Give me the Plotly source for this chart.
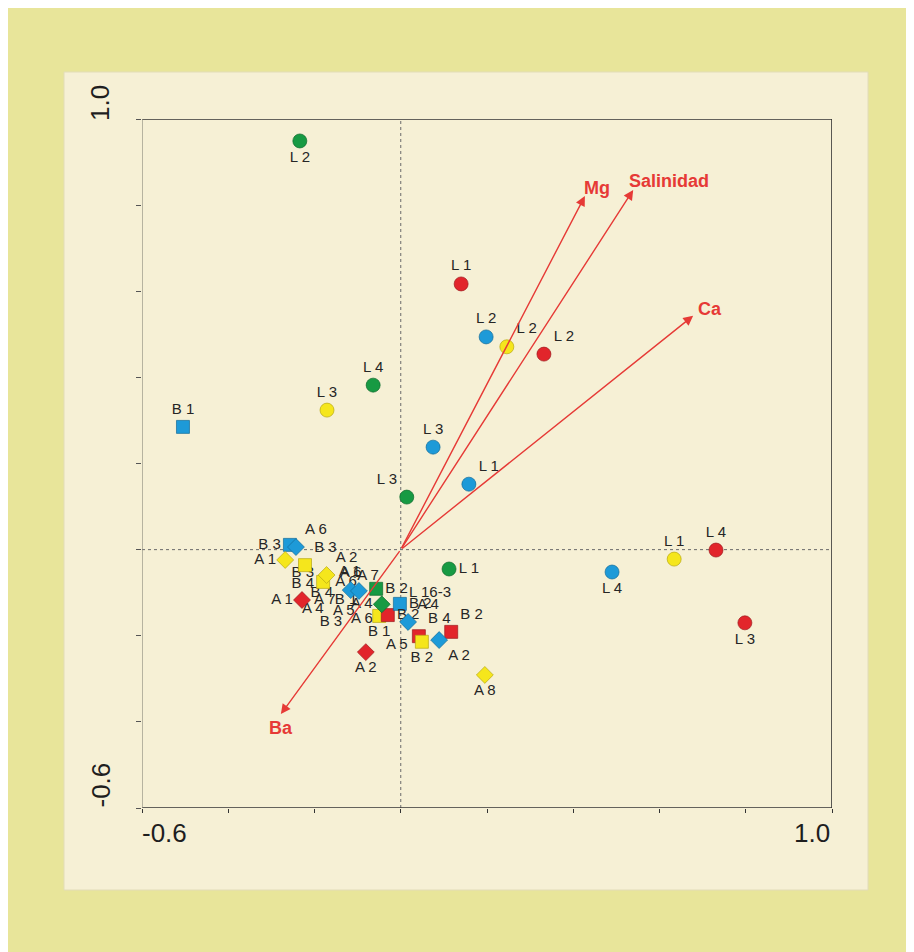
import plotly.graph_objects as go

# ---------------- data ----------------
COLORS = {"green": "#179a43", "blue": "#1d9ad8", "yellow": "#f5e61c", "red": "#e2252b"}
OUTLINE = {"green": "#0e6a2c", "blue": "#146c98", "yellow": "#b8a812", "red": "#9c1a1e"}

# circles (L sites)
circle_labels = ["L 2", "L 1", "L 2", "L 2", "L 2", "L 4", "L 3", "L 3", "L 1", "L 3",
                 "L 1", "L 4", "L 1", "L 4", "L 3"]
circle_color = ["green", "red", "blue", "yellow", "red", "green", "yellow", "blue", "blue", "green",
                "green", "blue", "yellow", "red", "red"]
circle_x = [-0.234, 0.140, 0.198, 0.246, 0.332, -0.064, -0.171, 0.075, 0.158, 0.014,
            0.112, 0.490, 0.634, 0.731, 0.798]
circle_y = [0.949, 0.617, 0.494, 0.471, 0.454, 0.382, 0.324, 0.238, 0.152, 0.122,
            -0.045, -0.052, -0.022, -0.001, -0.170]
circle_pos = ["bottom center", "top center", "top center", "top right", "top right", "top center",
              "top center", "top center", "top right", "top left", "middle right", "bottom center",
              "top center", "top center", "bottom center"]

# squares (B sites)
square_labels = ["B 1", "B 3", "B 3", "", "B 2", "B 1", "B 2", "B 2", "B 4", "B 2", "B 2"]
square_color = ["blue", "blue", "yellow", "yellow", "green", "yellow", "red", "blue", "red", "yellow", "red"]
square_x = [-0.505, -0.257, -0.222, -0.180, -0.057, -0.050, -0.030, -0.002, 0.042, 0.049, 0.117]
square_y = [0.285, 0.011, -0.036, -0.075, -0.091, -0.154, -0.152, -0.126, -0.201, -0.214, -0.191]
square_pos = ["top center", "middle left", "top right", "top center", "middle right", "bottom center",
              "middle right", "middle right", "top right", "bottom center", "top right"]

# diamonds (A sites)
diamond_labels = ["A 6", "A 1", "A 2", "A 1", "A 6", "", "A 4", "A 4", "A 2", "A 2", "A 8"]
diamond_color = ["blue", "yellow", "yellow", "red", "blue", "blue", "green", "blue", "blue", "red", "yellow"]
diamond_x = [-0.243, -0.268, -0.172, -0.229, -0.116, -0.097, -0.044, 0.017, 0.089, -0.081, 0.195]
diamond_y = [0.006, -0.024, -0.059, -0.117, -0.094, -0.096, -0.127, -0.168, -0.210, -0.238, -0.291]
diamond_pos = ["top right", "middle left", "top right", "middle left", "top center", "top center",
               "middle left", "top right", "bottom right", "bottom center", "bottom center"]

# labels of points hidden in the dense cluster
hidden_labels = ["B 3", "B 4", "B 4", "A 1", "A 6", "A 7", "B 1", "A 4", "A 5", "B 3", "A 6",
                 "A 5", "A 7", "L 16-3"]
hidden_x = [-0.227, -0.227, -0.183, -0.118, -0.127, -0.176, -0.127, -0.204, -0.132, -0.162, -0.090,
            -0.009, -0.076, 0.068]
hidden_y = [-0.054, -0.080, -0.101, -0.052, -0.075, -0.117, -0.117, -0.138, -0.143, -0.168, -0.161,
            -0.222, -0.061, -0.101]

# environmental vectors
env_names = ["Mg", "Salinidad", "Ca", "Ba"]
env_x = [0.427, 0.539, 0.678, -0.278]
env_y = [0.821, 0.835, 0.543, -0.382]

# axis
axis_min, axis_max = -0.6, 1.0
tick_vals = [-0.6, -0.4, -0.2, 0.0, 0.2, 0.4, 0.6, 0.8, 1.0]
tick_text_min, tick_text_max = "-0.6", "1.0"

# ---------------- figure ----------------
FONT = "Liberation Sans, Arial, sans-serif"
RED = "#e63a36"
TXT = "#262626"

fig = go.Figure()


def add_points(xs, ys, labels, cols, pos, symbol, size):
    fig.add_trace(go.Scatter(
        x=xs, y=ys, mode="markers+text", text=labels, textposition=pos,
        textfont=dict(family=FONT, size=15, color=TXT),
        marker=dict(symbol=symbol, size=size, color=[COLORS[c] for c in cols],
                    line=dict(width=0.7, color=[OUTLINE[c] for c in cols])),
        hoverinfo="skip", showlegend=False, cliponaxis=False))


fig.add_trace(go.Scatter(x=hidden_x, y=hidden_y, mode="text", text=hidden_labels,
                         textposition="middle center",
                         textfont=dict(family=FONT, size=15, color=TXT),
                         hoverinfo="skip", showlegend=False))
add_points(circle_x, circle_y, circle_labels, circle_color, circle_pos, "circle", 14)
add_points(square_x, square_y, square_labels, square_color, square_pos, "square", 13)
add_points(diamond_x, diamond_y, diamond_labels, diamond_color, diamond_pos, "diamond", 13)

# figure geometry (pixels, figure placed 8px from page corner by the body margin)
W, H = 930, 944
L, R, T, B = 134, 106, 111, 144
pw, ph = W - L - R, H - T - B


def px(xp):
    return (xp - L) / pw


def py(yp):
    return (H - B - yp) / ph


shapes = [
    # outer yellow frame and inner cream panel
    dict(type="rect", xref="paper", yref="paper", x0=px(0), x1=px(W + 2), y0=py(H + 2), y1=py(-3),
         fillcolor="#e8e59a", line=dict(width=0), layer="below"),
    dict(type="rect", xref="paper", yref="paper", x0=px(56), x1=px(860), y0=py(882), y1=py(64),
         fillcolor="#f6f0d5", line=dict(width=1, color="#e2dcb8"), layer="below"),
    # dotted zero lines
    dict(type="line", xref="x", yref="y", x0=0, x1=0, y0=axis_min, y1=axis_max,
         line=dict(color="#6a6a6a", width=1, dash="dot"), layer="below"),
    dict(type="line", xref="x", yref="y", x0=axis_min, x1=axis_max, y0=0, y1=0,
         line=dict(color="#6a6a6a", width=1, dash="dot"), layer="below"),
    # frame
    dict(type="line", xref="x", yref="y", x0=axis_min, x1=axis_max, y0=axis_min, y1=axis_min,
         line=dict(color="#333333", width=1.6)),
    dict(type="line", xref="x", yref="y", x0=axis_min, x1=axis_max, y0=axis_max, y1=axis_max,
         line=dict(color="#333333", width=1.3)),
    dict(type="line", xref="x", yref="y", x0=axis_max, x1=axis_max, y0=axis_min, y1=axis_max,
         line=dict(color="#333333", width=1.6)),
    dict(type="line", xref="x", yref="y", x0=axis_min, x1=axis_min, y0=axis_min, y1=axis_max,
         line=dict(color="#8c8a7c", width=1.2)),
]

annotations = []
label_shift = {"Mg": (12, 8), "Salinidad": (36, 9), "Ca": (17, 7), "Ba": (0, -14)}
for name, ex, ey in zip(env_names, env_x, env_y):
    annotations.append(dict(x=ex, y=ey, ax=0, ay=0, xref="x", yref="y", axref="x", ayref="y",
                            text="", showarrow=True, arrowhead=2, arrowsize=1.4, arrowwidth=1.4,
                            arrowcolor=RED, standoff=0))
    sx, sy = label_shift[name]
    annotations.append(dict(x=ex, y=ey, xref="x", yref="y", text="<b>%s</b>" % name, showarrow=False,
                            xshift=sx, yshift=sy, font=dict(family=FONT, size=18, color=RED)))

tick_font = dict(family=FONT, size=26, color="#1e1e1e")
annotations += [
    dict(x=axis_min, y=axis_max, xref="x", yref="y", text=tick_text_max, showarrow=False,
         textangle=-90, xanchor="center", yanchor="bottom", xshift=-42, yshift=-4, font=tick_font),
    dict(x=axis_min, y=axis_min, xref="x", yref="y", text=tick_text_min, showarrow=False,
         textangle=-90, xanchor="center", yanchor="bottom", xshift=-42, yshift=-2, font=tick_font),
    dict(x=axis_min, y=axis_min, xref="x", yref="y", text=tick_text_min, showarrow=False,
         xanchor="left", yanchor="top", xshift=-2, yshift=-8, font=tick_font),
    dict(x=axis_max, y=axis_min, xref="x", yref="y", text=tick_text_max, showarrow=False,
         xanchor="right", yanchor="top", xshift=0, yshift=-8, font=tick_font),
]

fig.update_layout(
    width=W, height=H,
    margin=dict(l=L, r=R, t=T, b=B, pad=0),
    paper_bgcolor="#f6f6f1",
    plot_bgcolor="rgba(0,0,0,0)",
    shapes=shapes,
    annotations=annotations,
    xaxis=dict(range=[axis_min, axis_max], showgrid=False, zeroline=False, showline=False,
               tickvals=tick_vals, showticklabels=False, ticks="outside", ticklen=4,
               tickcolor="#333333", tickwidth=1),
    yaxis=dict(range=[axis_min, axis_max], showgrid=False, zeroline=False, showline=False,
               tickvals=tick_vals, showticklabels=False, ticks="outside", ticklen=5,
               tickcolor="#555555", tickwidth=1),
)

fig.write_html("out.html")
